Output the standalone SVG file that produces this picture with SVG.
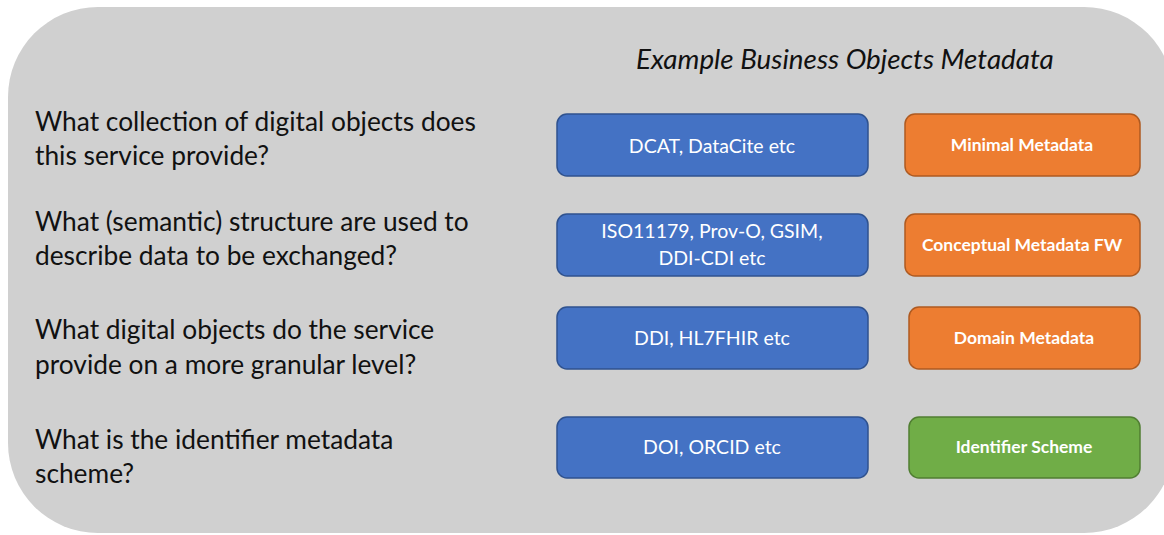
<svg xmlns="http://www.w3.org/2000/svg" width="1164" height="535" viewBox="0 0 1164 535">
  <style>
    .panel { fill: #d0d0d0; }
    .q { font-family: Lato, "Liberation Sans", sans-serif; font-size: 26.3px; fill: #111; }
    .title { font-family: Lato, "Liberation Sans", sans-serif; font-size: 27.8px; font-style: italic; fill: #111; }
    .std rect { fill: #4472c4; stroke: #2f528f; stroke-width: 1.5; }
    .std text { font-family: Lato, "Liberation Sans", sans-serif; font-size: 19.5px; fill: #fff; text-anchor: middle; }
    .cat text { font-family: Lato, "Liberation Sans", sans-serif; font-size: 17.5px; font-weight: bold; fill: #fff; text-anchor: middle; }
    .orange rect { fill: #ed7d31; stroke: #ae5a21; stroke-width: 1.5; }
    .green rect { fill: #70ad47; stroke: #507e32; stroke-width: 1.5; }
  </style>

  <!-- background panel -->
  <rect class="panel" x="8" y="7" width="1166" height="526" rx="90" ry="90"/>

  <text class="title" x="636" y="69">Example Business Objects Metadata</text>

  <!-- questions -->
  <g id="q1"><text class="q" x="35" y="131">What collection of digital objects does</text><text class="q" x="35" y="165">this service provide?</text></g>
  <g id="q2"><text class="q" x="35" y="231">What (semantic) structure are used to</text><text class="q" x="35" y="265">describe data to be exchanged?</text></g>
  <g id="q3"><text class="q" x="35" y="339">What digital objects do the service</text><text class="q" x="35" y="374">provide on a more granular level?</text></g>
  <g id="q4"><text class="q" x="35" y="449">What is the identifier metadata</text><text class="q" x="35" y="483">scheme?</text></g>

  <!-- standards -->
  <g id="std1" class="std"><rect x="557" y="114" width="311" height="62" rx="10"/><text x="712" y="153">DCAT, DataCite etc</text></g>
  <g id="std2" class="std"><rect x="557" y="214" width="311" height="62" rx="10"/><text x="712" y="238">ISO11179, Prov-O, GSIM,</text><text x="712" y="265">DDI-CDI etc</text></g>
  <g id="std3" class="std"><rect x="557" y="307" width="311" height="62" rx="10"/><text x="712" y="345">DDI, HL7FHIR etc</text></g>
  <g id="std4" class="std"><rect x="557" y="417" width="311" height="61" rx="10"/><text x="712" y="454">DOI, ORCID etc</text></g>

  <!-- categories -->
  <g id="cat1" class="cat orange"><rect x="905" y="114" width="235" height="62" rx="10"/><text x="1022" y="151">Minimal Metadata</text></g>
  <g id="cat2" class="cat orange"><rect x="905" y="214" width="235" height="62" rx="10"/><text x="1022" y="251">Conceptual Metadata FW</text></g>
  <g id="cat3" class="cat orange"><rect x="909" y="307" width="231" height="62" rx="10"/><text x="1024" y="344">Domain Metadata</text></g>
  <g id="cat4" class="cat green"><rect x="909" y="417" width="231" height="61" rx="10"/><text x="1024" y="453">Identifier Scheme</text></g>

  <!-- connectors -->
  <g id="connectors"/>
</svg>
